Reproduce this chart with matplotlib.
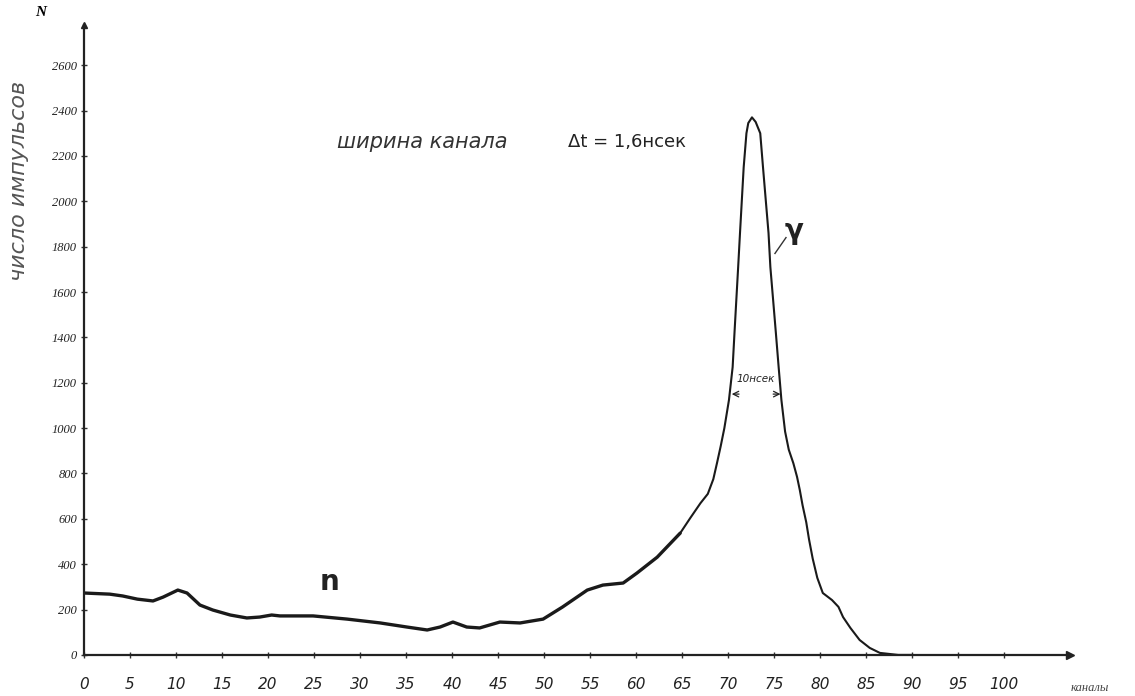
import numpy as np
import matplotlib
matplotlib.use('Agg')
import matplotlib.pyplot as plt

# данные
channels = [0, 2.8, 4.2, 5.8, 7.5, 8.6, 10.2, 11.2, 12.6, 14, 15.9, 17.7, 19.1,
            20.4, 21.3, 24.9, 28.6, 32.2, 35.1, 37.3, 38.7, 40.1, 41.6, 43,
            45.2, 47.4, 49.9, 52, 54.7, 56.4, 58.6, 60.1, 62.3, 64.8, 65.9,
            67.0, 67.8, 68.4, 68.8, 69.2, 69.6, 70.1, 70.5, 70.7, 70.9, 71.1,
            71.3, 71.5, 71.7, 72.0, 72.2, 72.6, 73.0, 73.5, 73.8, 74.1, 74.4,
            74.6, 74.9, 75.2, 75.5, 75.8, 76.2, 76.6, 77.1, 77.5, 77.8, 78.1,
            78.5, 78.8, 79.2, 79.7, 80.3, 81.3, 82.0, 82.5, 83.3, 84.3, 85.4,
            86.5, 88.5, 90]
counts = [273, 268, 260, 246, 238, 255, 286, 273, 220, 198, 176, 163, 167,
          176, 172, 172, 158, 141, 123, 110, 123, 145, 123, 119,
          145, 141, 158, 211, 286, 308, 317, 361, 431, 537, 604,
          669, 710, 775, 846, 920, 1000, 1124, 1269, 1419, 1565, 1710,
          1860, 2005, 2150, 2300, 2345, 2370, 2350, 2300, 2150, 2005, 1860,
          1710, 1565, 1419, 1269, 1124, 985, 905, 845, 785, 727, 660,
          585, 510, 425, 340, 273, 242, 212, 167, 119, 66, 31,
          9, 0, 0]

x_ticks = list(range(0, 101, 5))
y_ticks = list(range(0, 2601, 200))

fig = plt.figure(figsize=(11.35, 6.96), dpi=100)
ax = fig.add_axes([0.074, 0.059, 0.869, 0.905])
ax.set_xlim(0, 107.2)
ax.set_ylim(0, 2777)

ch = np.array(channels)
cn = np.array(counts)
low = ch <= 64.8
high = ch >= 64.8
ax.plot(ch[low], cn[low], color='#1a1a1a', lw=2.4, solid_capstyle='round',
        solid_joinstyle='round')
ax.plot(ch[high], cn[high], color='#1a1a1a', lw=1.5, solid_joinstyle='round')

for s in ['top', 'right']:
    ax.spines[s].set_visible(False)
for s in ['left', 'bottom']:
    ax.spines[s].set_linewidth(1.6)
    ax.spines[s].set_color('#222222')

# стрелки на осях
ax.plot(1, 0, '>', color='#222222', ms=6, transform=ax.transAxes, clip_on=False)
ax.plot(0, 1, '^', color='#222222', ms=5, transform=ax.transAxes, clip_on=False)

ax.set_xticks(x_ticks)
ax.set_yticks(y_ticks)
ax.tick_params(direction='inout', length=4, width=1, color='#333333')
ax.set_xticklabels([str(t) for t in x_ticks], fontsize=11, style='italic',
                   family='DejaVu Sans', color='#222222')
ax.set_yticklabels([str(t) for t in y_ticks], fontsize=9, style='italic',
                   family='Liberation Serif', color='#222222')
ax.tick_params(axis='x', pad=14)
ax.tick_params(axis='y', pad=3)

# подписи
fig.text(0.017, 0.74, 'число импульсов', rotation=90, fontsize=16,
         style='italic', color='#555555', family='DejaVu Sans',
         ha='center', va='center')
fig.text(0.036, 0.982, 'N', fontsize=11, style='italic', weight='bold',
         family='Liberation Serif', ha='center', va='center')
fig.text(0.96, 0.012, 'каналы', fontsize=9, style='italic', color='#444444',
         family='Liberation Serif', ha='center', va='center')
fig.text(0.297, 0.796, 'ширина канала', fontsize=15, style='italic',
         color='#333333', family='DejaVu Sans', ha='left', va='center')
fig.text(0.5, 0.796, 'Δt = 1,6нсек', fontsize=13, color='#222222',
         family='DejaVu Sans', ha='left', va='center')

ax.text(26.7, 320, 'n', fontsize=20, family='DejaVu Sans', weight='bold',
        color='#222222', ha='center', va='center')
ax.text(77.2, 1870, 'γ', fontsize=20, family='DejaVu Sans', weight='bold',
        color='#222222', ha='center', va='center')
ax.plot([75.1, 76.3], [1770, 1840], color='#333333', lw=1)

# ширина на полувысоте
ax.text(73.0, 1215, '10нсек', fontsize=7.5, style='italic', color='#222222',
        family='DejaVu Sans', ha='center', va='center')
ax.annotate('', xy=(70.1, 1150), xytext=(71.5, 1150),
            arrowprops=dict(arrowstyle='->', lw=0.9, color='#222222'))
ax.annotate('', xy=(76.0, 1150), xytext=(74.6, 1150),
            arrowprops=dict(arrowstyle='->', lw=0.9, color='#222222'))

fig.savefig('out.png', dpi=100)
